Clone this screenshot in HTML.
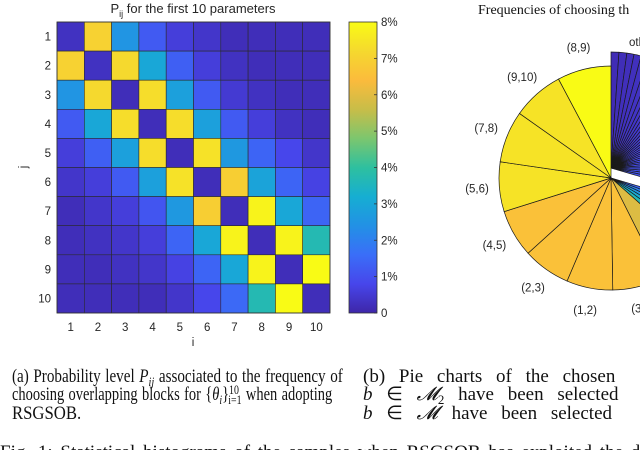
<!DOCTYPE html>
<html><head><meta charset="utf-8"><style>
html,body{margin:0;padding:0;background:#fff;width:640px;height:450px;overflow:hidden}
svg{display:block}
.s{font-family:"Liberation Sans",sans-serif;fill:#262626}
.t{font-family:"Liberation Serif",serif;fill:#111}
</style></head><body>
<svg id="fig" width="640" height="450" viewBox="0 0 640 450">
<defs>
<linearGradient id="cb" x1="0" y1="1" x2="0" y2="0">
<stop offset="0" stop-color="#3e26a8"/><stop offset="0.1" stop-color="#4746eb"/><stop offset="0.2" stop-color="#3a6ef8"/><stop offset="0.3" stop-color="#2291e5"/><stop offset="0.4" stop-color="#16aed2"/><stop offset="0.5" stop-color="#2ec09f"/><stop offset="0.6" stop-color="#7cc66e"/><stop offset="0.7" stop-color="#c8bd48"/><stop offset="0.8" stop-color="#fbbb3c"/><stop offset="0.9" stop-color="#f5d92e"/><stop offset="1" stop-color="#f9fb15"/>
</linearGradient>
</defs>
<text class="s" x="193" y="13" font-size="13" text-anchor="middle">P<tspan font-size="9" dy="4">ij</tspan><tspan dy="-4"> for the first 10 parameters</tspan></text>
<g id="heat"></g>
<g id="pie"></g>
<text class="t" x="478" y="14" font-size="14">Frequencies of choosing th</text>
<g font-size="19">
<text class="t jl" x="0" y="382">(a) Probability level <tspan font-style="italic">P<tspan font-size="13" dy="4">ij</tspan></tspan><tspan dy="-4"> associated to the frequency of</tspan></text>
<text class="t jl" x="0" y="400">choosing overlapping blocks for {<tspan font-style="italic">θ<tspan font-size="13" dy="4">i</tspan></tspan><tspan dy="-4">}</tspan><tspan font-size="13" dy="-6">10</tspan><tspan font-size="13" dy="10" dx="-14">i=1</tspan><tspan dy="-4"> when adopting</tspan></text>
<text class="t" x="12" y="419" transform="translate(12,0) scale(0.88,1) translate(-12,0)">RSGSOB.</text>
</g>
<g font-size="19">
<text class="t" x="363" y="382" word-spacing="9">(b) Pie charts of the chosen</text>
<text class="t" x="363" y="400" word-spacing="9"><tspan font-style="italic">b</tspan> ∈ <tspan font-style="italic">𝓜</tspan><tspan font-size="13" dy="4">2</tspan><tspan dy="-4"> have been selected</tspan></text>
<text class="t" x="363" y="419" word-spacing="9"><tspan font-style="italic">b</tspan> ∈ <tspan font-style="italic">𝓜</tspan> have been selected</text>
</g>
<text class="t" x="0" y="458" font-size="19" word-spacing="3">Fig. 1: Statistical histograms of the samples when RSGSOB has exploited the different</text>
</svg>
<script>
const rowLabels=["1","2","3","4","5","6","7","8","9","10"];
const cbTicks=["0","1%","2%","3%","4%","5%","6%","7%","8%"];
const P=[
[0.3,7.0,2.5,1.2,0.6,0.4,0.2,0.2,0.2,0.2],
[7.0,0.3,7.2,3.0,1.3,0.6,0.3,0.2,0.2,0.2],
[2.5,7.2,0.2,7.3,2.8,1.2,0.5,0.3,0.2,0.2],
[1.2,3.0,7.3,0.2,7.3,2.8,1.2,0.6,0.3,0.2],
[0.6,1.3,2.8,7.3,0.2,7.4,2.6,1.4,0.8,0.4],
[0.4,0.6,1.2,2.8,7.4,0.2,6.9,2.9,1.4,0.7],
[0.2,0.4,0.6,1.1,2.6,6.9,0.2,7.8,3.0,1.4],
[0.2,0.3,0.4,0.6,1.4,3.0,7.8,0.2,7.8,3.7],
[0.2,0.2,0.3,0.4,0.7,1.4,3.0,7.8,0.2,8.0],
[0.2,0.2,0.2,0.2,0.4,0.8,1.5,3.7,8.0,0.2]];
const pieLabels=["(8,9)","(9,10)","(7,8)","(5,6)","(4,5)","(2,3)","(1,2)","(3,4)","(6,7)"];
const pieValues=[7.8,7.5,7.5,7.2,6.9,6.9,6.7,7.2,6.1];
const midValues=[1.2,1.3,1.4,1.5,1.6];
const otherValues=[1.1,1.1,1.0,1.0,1.0,1.0,1.0,0.9,0.9,0.9,0.9,0.9,0.9,0.9,0.9,0.9,0.9,0.9,0.9,0.9,1.0,1.0,1.0,1.0,1.1,1.1,1.1,1.1,1.2,1.2];

const NS="http://www.w3.org/2000/svg";
function mk(t,a,p){const e=document.createElementNS(NS,t);for(const k in a)e.setAttribute(k,a[k]);p.appendChild(e);return e;}
document.querySelectorAll('.jl').forEach(t=>{
 t.setAttribute('word-spacing',1);
 const w=t.getComputedTextLength();
 const s=331/w;
 t.setAttribute('transform','translate(12,0) scale('+s.toFixed(4)+',1)');
});
const stops=[[0,[62,38,168]],[0.1,[71,70,235]],[0.2,[58,110,248]],[0.3,[34,145,229]],[0.4,[22,174,210]],[0.5,[46,192,159]],[0.6,[124,198,110]],[0.7,[200,189,72]],[0.8,[251,187,60]],[0.9,[245,217,46]],[1,[249,251,21]]];
function cmap(v){v=Math.max(0,Math.min(1,v));for(let i=1;i<stops.length;i++){if(v<=stops[i][0]){const a=stops[i-1],b=stops[i],f=(v-a[0])/(b[0]-a[0]);return "rgb("+a[1].map((c,k)=>Math.round(c+(b[1][k]-c)*f)).join(",")+")";}}return "rgb(249,251,21)";}
const X0=57,X1=330,Y0=22,Y1=313,vmax=8;
const cw=(X1-X0)/10,ch=(Y1-Y0)/10;
const xs=i=>X0+i*cw, ys=j=>Y0+j*ch;
const H=document.getElementById('heat');
for(let j=0;j<10;j++)for(let i=0;i<10;i++){
 const r=mk('rect',{x:xs(i),y:ys(j),width:cw,height:ch,fill:cmap(P[j][i]/vmax),stroke:"#2a2a2a","stroke-width":0.6},H);
 
 
}
mk('rect',{x:X0,y:Y0,width:X1-X0,height:Y1-Y0,fill:"none",stroke:"#333","stroke-width":0.8},H);
rowLabels.forEach((l,k)=>{
 const ty=mk('text',{class:"s",x:51,y:ys(k)+ch/2+4,"font-size":11.5,"text-anchor":"end"},H);ty.textContent=l;
 
 
 const tx=mk('text',{class:"s",x:xs(k)+cw/2,y:331,"font-size":11.5,"text-anchor":"middle"},H);tx.textContent=l;
 
 
});
const xt=mk('text',{class:"s",x:193,y:346,"font-size":11.5,"text-anchor":"middle"},H);xt.textContent="i";


const yt=mk('text',{class:"s",x:0,y:0,"font-size":11.5,"text-anchor":"middle",transform:"translate(27,167) rotate(-90)"},H);yt.textContent="j";


const CB=mk('g',{},H);


mk('rect',{x:349,y:Y0,width:28,height:Y1-Y0,fill:"url(#cb)",stroke:"#333","stroke-width":0.8},CB);
cbTicks.forEach((l,k)=>{
 const y=Y1-k*(Y1-Y0)/(cbTicks.length-1);
 mk('line',{x1:374,x2:377,y1:y,y2:y,stroke:"#333","stroke-width":0.8},CB);
 const t=mk('text',{class:"s",x:381,y:y+4,"font-size":11.5},CB);t.textContent=l;
 
 
});
const PG=document.getElementById('pie');
const cx=611,cy=178,R=112;
const total=pieValues.reduce((a,b)=>a+b,0)+midValues.reduce((a,b)=>a+b,0)+otherValues.reduce((a,b)=>a+b,0);
const deg=v=>v/total*360;
function wedge(a0,a1,col,ox,oy,r){
 const p=a=>[ox+r*Math.sin(a*Math.PI/180),oy-r*Math.cos(a*Math.PI/180)];
 const s=p(a0),e=p(a1);
 return mk('path',{d:`M${ox},${oy}L${s[0]},${s[1]}A${r},${r} 0 ${a1-a0>180?1:0} 1 ${e[0]},${e[1]}Z`,fill:col,stroke:"#1a1a1a","stroke-width":0.7},PG);
}
let a=0;
otherValues.forEach((v,k)=>{
 const w=wedge(a,a+deg(v),cmap(0.02+0.12*k/otherValues.length),cx,cy-10,116);
 
 
 a+=deg(v);
});
const otherLbl=mk('text',{class:"s",x:629,y:46,"font-size":11.5},PG);otherLbl.textContent="others";


midValues.forEach((v,k)=>{
 const w=wedge(a,a+deg(v),cmap(0.18+0.07*k),cx,cy,R);
 
 
 a+=deg(v);
});
for(let k=pieValues.length-1;k>=0;k--){
 const a0=a,a1=a+deg(pieValues[k]);
 const w=wedge(a0,a1,cmap(k==0?1.0:(k<4?0.93:(k<8?0.82:0.74))),cx,cy,R);
 
 
 const m=(a0+a1)/2*Math.PI/180,lr=R*1.2;
 const t=mk('text',{class:"s",x:cx+lr*Math.sin(m),y:cy-lr*Math.cos(m)+4,"font-size":11.5,"text-anchor":"middle"},PG);t.textContent=pieLabels[k];
 
 
 a=a1;
}
</script>
</body></html>
